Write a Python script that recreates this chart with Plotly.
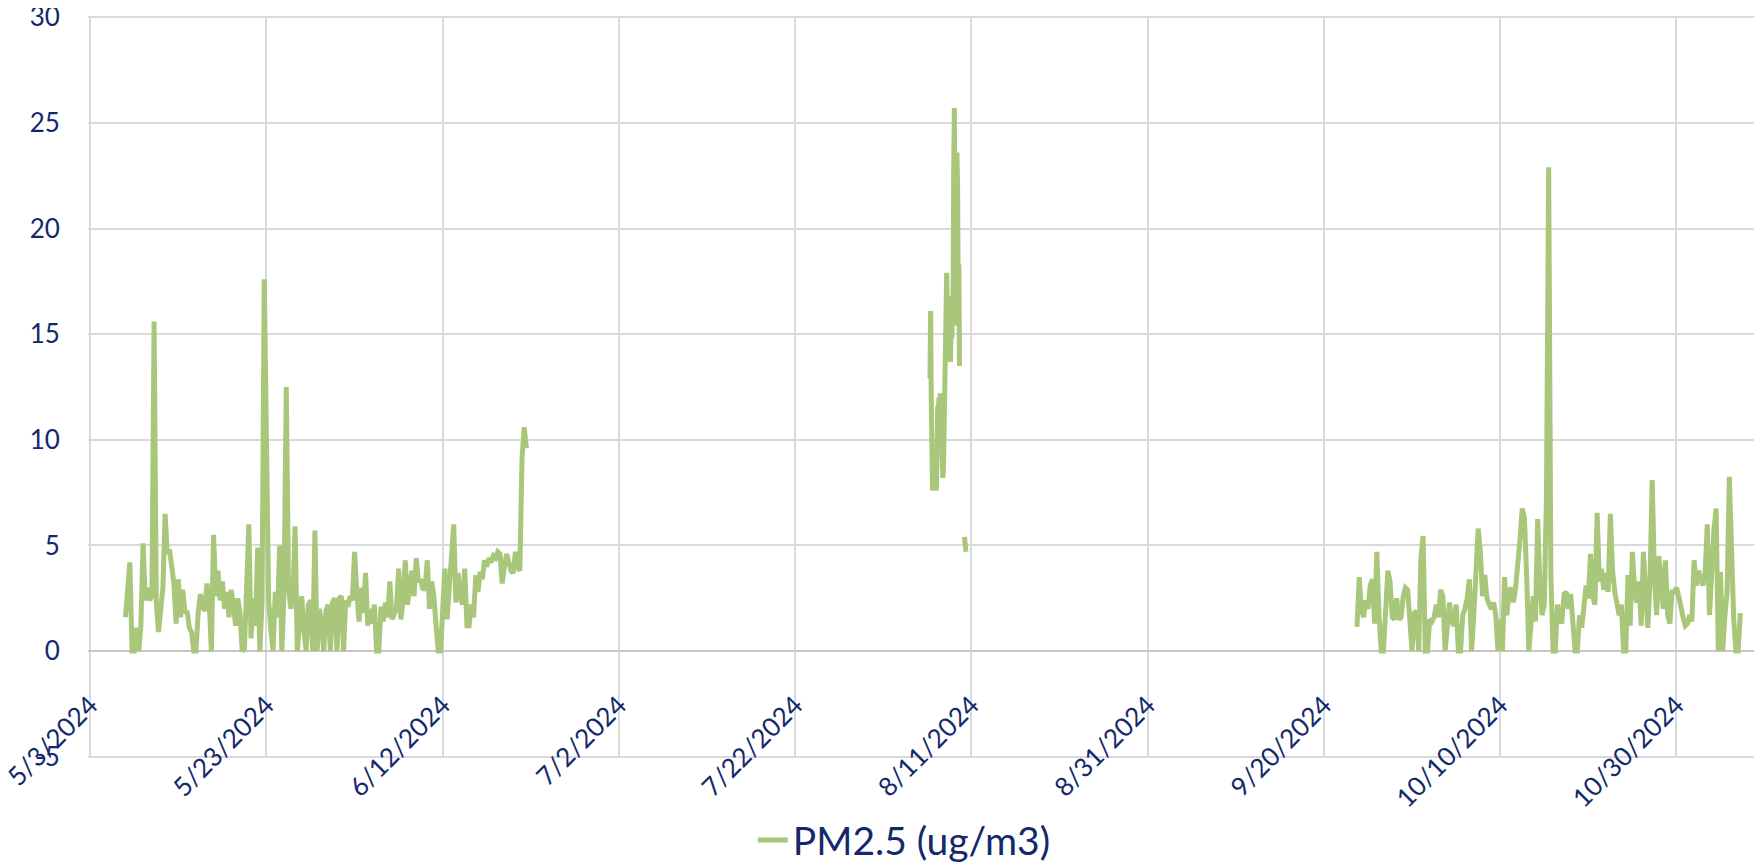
"""PM2.5 time series, May - Nov 2024 (Excel-style line chart)."""
import pandas as pd
import plotly.graph_objects as go

PALETTE = {
    "line": "#A9C77A",
    "text": "#13296B",
    "grid": "#D9D9D9",
    "zero": "#C6C6C6",
    "bg": "#FFFFFF",
}
FONT = "Lato, 'Open Sans', sans-serif"

SERIES_NAME = "PM2.5 (ug/m3)"

# --- data (ug/m3) -----------------------------------------------------------
# 7 May -> 21 Jun, one reading every 6 h
may_jun_start = "2024-05-07 00:00"
may_jun_step = "6h"
pm_may_jun = [
    1.6, 2.9, 4.2, 0.0,   0.0, 1.1, 0.0, 1.2,   5.1, 2.4, 3.0, 2.4,
    2.6, 15.6, 2.3, 0.9,  2.2, 3.0, 6.5, 4.6,   4.8, 3.9, 3.2, 1.3,
    3.4, 1.6, 2.9, 1.8,   1.9, 1.1, 0.9, 0.0,   0.0, 1.8, 2.7, 2.1,
    1.9, 3.2, 2.4, 0.0,   5.5, 2.6, 3.8, 2.4,   3.3, 2.0, 2.8, 1.6,
    2.9, 2.2, 1.2, 2.5,   1.8, 0.0, 0.1, 3.0,   6.0, 0.6, 2.5, 1.2,
    4.9, 0.0, 2.3, 17.6,  7.1, 2.4, 1.0, 0.0,   2.8, 1.6, 5.0, 0.0,
    2.9, 12.5, 3.1, 2.0,  2.5, 5.9, 0.0, 1.5,   2.6, 1.0, 0.0, 2.2,
    2.4, 0.0, 5.7, 0.0,   2.0, 1.3, 0.0, 1.9,   2.2, 0.0, 2.3, 2.5,
    0.0, 2.5, 2.6, 0.0,   2.4, 2.1, 2.6, 2.4,   4.7, 2.8, 1.4, 3.0,
    1.8, 3.7, 1.2, 2.0,   1.3, 2.2, 0.0, 0.0,   2.1, 1.4, 2.3, 1.6,
    3.3, 1.5, 1.7, 2.0,   3.9, 1.5, 2.4, 4.3,   2.2, 3.0, 3.8, 2.6,
    4.4, 3.3, 3.4, 2.9,   3.0, 4.3, 2.0, 3.3,   2.6, 1.2, 0.0, 0.0,
    1.8, 3.9, 1.5, 3.0,   5.0, 6.0, 2.3, 3.7,   2.6, 2.2, 3.9, 1.2,
    1.2, 2.2, 1.6, 3.6,   2.8, 3.75, 3.4, 4.3,  4.0, 4.4, 4.2, 4.5,
    4.4, 4.7, 4.6, 3.2,   4.0, 4.6, 4.2, 3.8,   3.7, 4.7, 4.0, 3.8,
    9.1, 10.6, 9.6,
]

# 6 Aug -> 10 Aug, denser readings
aug_start = "2024-08-06 07:00"
aug_step = "105min"
pm_aug = [
    12.9, 16.1, 12.0, 9.5, 7.6, 8.0, 7.6, 9.6, 7.7, 8.5, 7.6, 10.8,
    11.6, 11.4, 12.0, 11.0, 12.2, 10.5, 12.0, 9.5, 8.2, 8.6, 10.1, 11.5,
    13.0, 15.5, 17.9, 16.5, 14.5, 16.8, 15.0, 14.0, 13.7, 15.6, 14.8, 16.0,
    17.0, 23.0, 25.7, 18.0, 15.4, 21.0, 23.6, 22.0, 17.0, 18.3, 13.5,
]
aug_tail_start = "2024-08-10 05:00"
aug_tail_step = "2h"
pm_aug_tail = [5.4, 4.9, 4.7]

# 23 Sep -> 6 Nov, one reading every 6 h
sep_nov_start = "2024-09-23 18:00"
sep_nov_step = "6h"
pm_sep_nov = [
    1.15, 3.5, 2.0, 1.6, 2.4, 2.0, 3.1, 3.4, 1.3, 4.7, 1.7, 0.0,
    0.0, 2.0, 3.8, 3.3, 1.6, 1.5, 2.5, 1.5, 1.6, 2.6, 3.0, 2.9,
    1.7, 0.0, 1.8, 1.9, 0.0, 4.4, 5.45, 0.0, 0.0, 1.5, 1.4, 1.6,
    2.2, 1.6, 2.9, 2.6, 0.0, 1.4, 2.3, 1.4, 1.2, 2.2, 0.0, 0.0,
    1.7, 2.0, 2.5, 3.4, 0.0, 1.7, 3.6, 5.8, 4.7, 2.6, 3.6, 2.5,
    2.2, 2.0, 2.3, 1.7, 0.0, 1.5, 0.0, 3.5, 1.7, 2.8, 3.0, 2.3,
    3.0, 3.9, 5.3, 6.75, 6.3, 3.6, 0.0, 1.3, 2.6, 1.4, 6.25, 3.3,
    1.7, 2.2, 7.4, 22.9, 3.6, 0.0, 0.0, 2.2, 1.4,
    1.4, 2.7, 2.8, 2.0, 2.7, 1.4, 0.0, 0.0, 1.7, 1.1, 2.3, 3.1,
    2.5, 4.6, 2.6, 2.2, 6.55, 3.3, 3.9, 2.9, 3.7, 2.8, 6.5, 3.8,
    2.8, 2.3, 1.7, 2.2, 0.0, 0.0, 3.6, 1.2, 4.7, 2.9, 2.3, 3.3,
    1.2, 4.7, 2.3, 1.1, 3.3, 8.1, 3.6, 1.7, 4.5, 2.8, 2.0, 4.3,
    1.7, 1.3, 2.8, 2.8, 3.0, 2.6, 2.0, 1.6, 1.2, 1.3, 1.7, 1.4,
    4.3, 3.1, 3.8, 3.4, 3.1, 3.7, 6.0, 1.7, 4.4, 5.7, 6.75, 0.0,
    3.75, 0.0, 1.7, 2.8, 8.25, 3.6, 1.5, 0.0, 0.0, 1.8,
]

# axis settings
x_first_tick = "2024-05-03"
x_range = ["2024-05-02 18:00", "2024-11-08 17:00"]
tick_every_days = 20
y_ticks = [-5, 0, 5, 10, 15, 20, 25, 30]
y_tick_labels = ["-5", "0", "5", "10", "15", "20", "25", "30"]


def _segment(start, step, values):
    times = pd.date_range(start, periods=len(values), freq=step)
    return list(times), list(values)


segments = [
    _segment(may_jun_start, may_jun_step, pm_may_jun),
    _segment(aug_start, aug_step, pm_aug),
    _segment(aug_tail_start, aug_tail_step, pm_aug_tail),
    _segment(sep_nov_start, sep_nov_step, pm_sep_nov),
]

xs, ys = [], []
for t, v in segments:
    if xs:  # break the line between recording periods
        xs.append(None)
        ys.append(None)
    xs += t
    ys += v

fig = go.Figure(go.Scatter(
    x=xs, y=ys, mode="lines", name=SERIES_NAME,
    line=dict(color=PALETTE["line"], width=5),
    connectgaps=False,
))

# the page body adds an 8px margin, so the figure is 8px smaller than the window
fig.update_layout(
    width=1754, height=858,
    paper_bgcolor=PALETTE["bg"], plot_bgcolor=PALETTE["bg"],
    font=dict(family=FONT, color=PALETTE["text"], size=26),
    margin=dict(l=80, r=0, t=8, b=108, autoexpand=False),
    showlegend=True,
    legend=dict(
        orientation="h",
        xref="container", x=0.511, xanchor="center",
        yref="container", y=0.03, yanchor="middle",
        font=dict(size=39, color=PALETTE["text"]),
        bgcolor="rgba(0,0,0,0)",
    ),
)
fig.update_xaxes(
    type="date", automargin=False,
    anchor="free", position=0.1,  # labels sit between the 0 and -5 lines
    range=x_range,
    tick0=x_first_tick, dtick=tick_every_days * 86400000,
    tickformat="%-m/%-d/%Y", tickangle=-45,
    showgrid=True, gridcolor=PALETTE["grid"], gridwidth=1.5,
    showline=False, zeroline=False, ticks="",
    ticklabeloverflow="allow",
    tickfont=dict(size=26, color=PALETTE["text"]),
)
fig.update_yaxes(
    automargin=False,
    range=[y_ticks[0] - 0.06, y_ticks[-1] + 0.06],
    tickmode="array", tickvals=y_ticks, ticktext=y_tick_labels,
    showgrid=True, gridcolor=PALETTE["grid"], gridwidth=1.5,
    zeroline=True, zerolinecolor=PALETTE["zero"], zerolinewidth=2,
    showline=False, ticks="outside", ticklen=22, tickcolor="rgba(0,0,0,0)",
    ticklabeloverflow="allow",
    tickfont=dict(size=26, color=PALETTE["text"]),
)

fig.write_html("out.html")
